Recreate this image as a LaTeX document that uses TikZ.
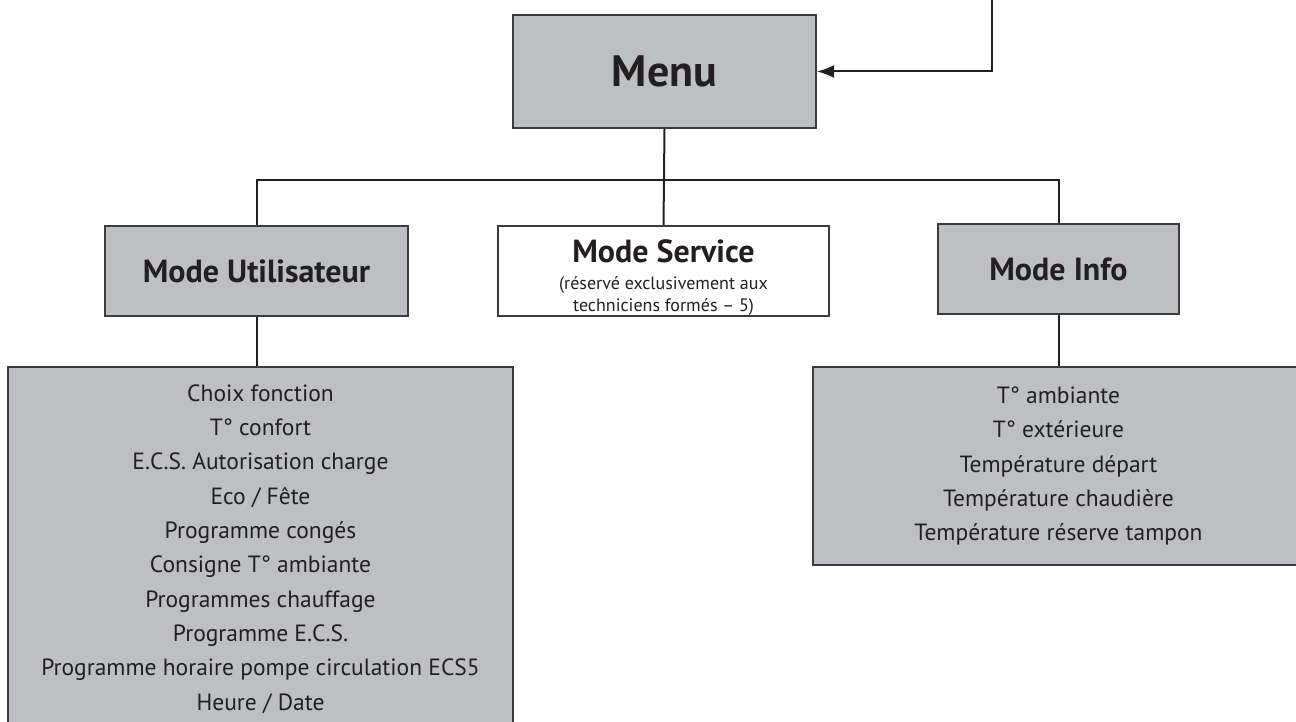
\documentclass[tikz,border=0pt]{standalone}
\usepackage{fontspec}
\setmainfont{PT Sans}
\usetikzlibrary{arrows.meta}
\definecolor{boxgrey}{HTML}{BEBFC3}
\definecolor{edgegrey}{HTML}{3C3C3C}
\definecolor{inkline}{HTML}{231F20}
\begin{document}
\begin{tikzpicture}
[x=1pt,y=-1pt,
  lineDecorate/.style={draw=inkline,line width=2pt},%
  boxDecorate/.style={draw=edgegrey,line width=2pt,inner sep=0pt,
    align=center,text=inkline},%
  greyDecorate/.style={boxDecorate,fill=boxgrey},%
  headFont/.style={font=\fontsize{32}{36}\selectfont\bfseries},%
  listFont/.style={font=\fontsize{23.5}{34.3}\selectfont}]
\useasboundingbox (0,0) rectangle (1296,722);
\clip (0,0) rectangle (1296,722);
%% boxes
\node (menu) at (664.5,71.5) [greyDecorate,minimum width=303,minimum height=113,
  font=\fontsize{44}{50}\selectfont\bfseries] {Menu};
\node (util) at (256.5,271) [greyDecorate,headFont,minimum width=303,minimum height=90]
  {Mode Utilisateur};
\node (service) at (663.5,271) [boxDecorate,minimum width=331,minimum height=90,
  font=\fontsize{18}{21.5}\selectfont]
  {\rule{0pt}{35pt}\fontsize{32}{34}\selectfont\bfseries Mode Service\\[6pt]
   \fontsize{18}{21.5}\selectfont\mdseries (réservé exclusivement aux\\
   techniciens formés -- 5)};
\node (info) at (1058.5,269) [greyDecorate,headFont,minimum width=241,minimum height=90]
  {Mode Info};
\node (ulist) at (260.5,366) [greyDecorate,listFont,anchor=north,
  minimum width=505,minimum height=364] {%
  Choix fonction\\T° confort\\E.C.S. Autorisation charge\\Eco / Fête\\
  Programme congés\\Consigne T° ambiante\\Programmes chauffage\\
  Programme E.C.S.\\Programme horaire pompe circulation ECS5\\Heure / Date};
\node (ilist) at (1058.5,366) [greyDecorate,listFont,anchor=north,
  minimum width=491,minimum height=198] {%
  T° ambiante\\T° extérieure\\Température départ\\
  Température chaudière\\Température réserve tampon};
%% connectors
\coordinate (feed) at (992,0);
\coordinate (bus) at (664.5,180);
\draw[lineDecorate,-{Latex[length=17pt,width=13pt]}] (feed) |- (menu.east);
\draw[lineDecorate] (menu.south) -- (service.north);
\draw[lineDecorate] (util.north) |- (bus) -| (info.north);
\draw[lineDecorate] (util.south) -- (util.south |- ulist.north);
\draw[lineDecorate] (info.south) -- (ilist.north);
\end{tikzpicture}
\end{document}
